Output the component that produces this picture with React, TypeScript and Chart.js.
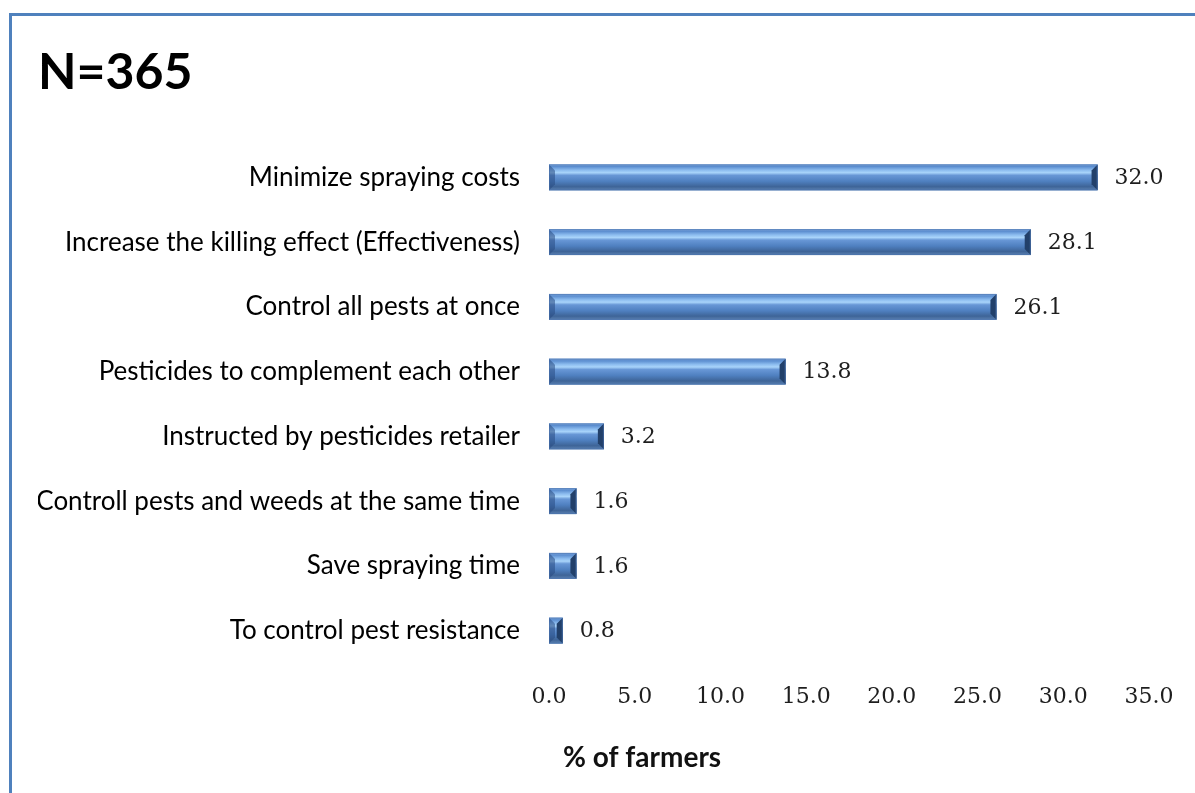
import React, { useEffect, useRef } from "react";
import { Chart, registerables } from "chart.js";

Chart.register(...registerables);

const categories = [
  "Minimize spraying costs",
  "Increase the killing effect (Effectiveness)",
  "Control all pests at once",
  "Pesticides to complement each other",
  "Instructed by pesticides retailer",
  "Controll pests and weeds at the same time",
  "Save spraying time",
  "To control pest resistance",
];
const percentages = [32.0, 28.1, 26.1, 13.8, 3.2, 1.6, 1.6, 0.8];
const xMin = 0;
const xMax = 35;
const xStep = 5;
const titleText = "N=365";
const xAxisTitle = "% of farmers";

const LABEL_FONT = "Lato, 'Open Sans', sans-serif";
const NUM_FONT = "'DejaVu Serif', serif";

const bevelBarsPlugin = {
  id: "bevelBars",
  afterDatasetsDraw(chart: any) {
    const ctx: CanvasRenderingContext2D = chart.ctx;
    const meta = chart.getDatasetMeta(0);
    meta.data.forEach((el: any, i: number) => {
      const props = el.getProps(["x", "y", "base", "height"], true);
      const x0 = Math.min(props.base, props.x);
      const x1 = Math.max(props.base, props.x);
      const h = props.height;
      const top = props.y - h / 2;
      const bottom = props.y + h / 2;
      const w = x1 - x0;
      ctx.save();
      const g = ctx.createLinearGradient(0, top, 0, bottom);
      g.addColorStop(0, "#86ADE0");
      g.addColorStop(0.08, "#5B8DCF");
      g.addColorStop(0.22, "#8CBCEF");
      g.addColorStop(0.32, "#A9D4FA");
      g.addColorStop(0.42, "#6897D6");
      g.addColorStop(0.65, "#4F80C0");
      g.addColorStop(0.86, "#3E6497");
      g.addColorStop(1, "#5C82B3");
      ctx.fillStyle = g;
      ctx.fillRect(x0, top, w, h);
      const b = Math.min(6, w / 2, h / 2);
      // left bevel
      ctx.beginPath();
      ctx.moveTo(x0, top);
      ctx.lineTo(x0 + b, top + b);
      ctx.lineTo(x0 + b, bottom - b);
      ctx.lineTo(x0, bottom);
      ctx.closePath();
      ctx.fillStyle = "rgba(40,75,130,0.55)";
      ctx.fill();
      // right bevel
      ctx.beginPath();
      ctx.moveTo(x1, top);
      ctx.lineTo(x1 - b, top + b);
      ctx.lineTo(x1 - b, bottom - b);
      ctx.lineTo(x1, bottom);
      ctx.closePath();
      ctx.fillStyle = "#22406A";
      ctx.fill();
      // thin outline
      ctx.strokeStyle = "rgba(70,110,170,0.6)";
      ctx.lineWidth = 1;
      ctx.strokeRect(x0 + 0.5, top + 0.5, w - 1, h - 1);
      ctx.restore();

      // value label
      ctx.save();
      ctx.font = `22px ${NUM_FONT}`;
      ctx.fillStyle = "#1e1e1e";
      ctx.textAlign = "left";
      ctx.textBaseline = "middle";
      ctx.fillText(percentages[i].toFixed(1), x1 + 17, props.y + 1);
      ctx.restore();
    });
  },
  afterDraw(chart: any) {
    const ctx: CanvasRenderingContext2D = chart.ctx;
    const area = chart.chartArea;
    ctx.save();
    ctx.font = `bold 28px ${LABEL_FONT}`;
    ctx.fillStyle = "#111";
    ctx.textAlign = "left";
    ctx.textBaseline = "middle";
    ctx.fillText(xAxisTitle, area.left + 14, 758);
    ctx.restore();
  },
};

export default function App() {
  const canvasRef = useRef<HTMLCanvasElement | null>(null);

  useEffect(() => {
    if (!canvasRef.current) return;
    const chart = new Chart(canvasRef.current, {
      type: "bar",
      data: {
        labels: categories,
        datasets: [
          {
            data: percentages,
            backgroundColor: "#4F81BD",
            borderWidth: 0,
            barPercentage: 0.4,
            categoryPercentage: 1,
          },
        ],
      },
      options: {
        indexAxis: "y",
        animation: false,
        responsive: true,
        maintainAspectRatio: false,
        layout: { padding: { left: 38, right: 46, top: 0, bottom: 90 } },
        plugins: {
          legend: { display: false },
          tooltip: { enabled: false },
          title: {
            display: true,
            text: titleText,
            align: "start",
            color: "#000",
            font: { family: LABEL_FONT, size: 50, weight: "bold", lineHeight: 1.2 },
            padding: { top: 43, bottom: 42 },
          },
        },
        scales: {
          x: {
            min: xMin,
            max: xMax,
            grid: { display: false, drawTicks: false },
            border: { display: false },
            ticks: {
              stepSize: xStep,
              padding: 21,
              color: "#1e1e1e",
              font: { family: NUM_FONT, size: 22 },
              callback: (v: any) => Number(v).toFixed(1),
            },
            afterFit: (s: any) => {
              s.height = 40;
            },
          },
          y: {
            grid: { display: false, drawTicks: false },
            border: { display: false },
            ticks: {
              padding: 29,
              color: "#000",
              font: { family: LABEL_FONT, size: 26 },
            },
            afterFit: (s: any) => {
              s.width = 549 - 38;
            },
          },
        },
      },
      plugins: [bevelBarsPlugin],
    });
    return () => chart.destroy();
  }, []);

  return (
    <div style={{ position: "absolute", left: 0, top: 0, width: 1195, height: 793, background: "#fff" }}>
      <canvas ref={canvasRef} />
      <div
        style={{
          position: "absolute",
          left: 9,
          top: 13,
          right: 0,
          bottom: 0,
          borderTop: "3px solid #4F81BD",
          borderLeft: "3px solid #4F81BD",
          pointerEvents: "none",
        }}
      />
    </div>
  );
}
